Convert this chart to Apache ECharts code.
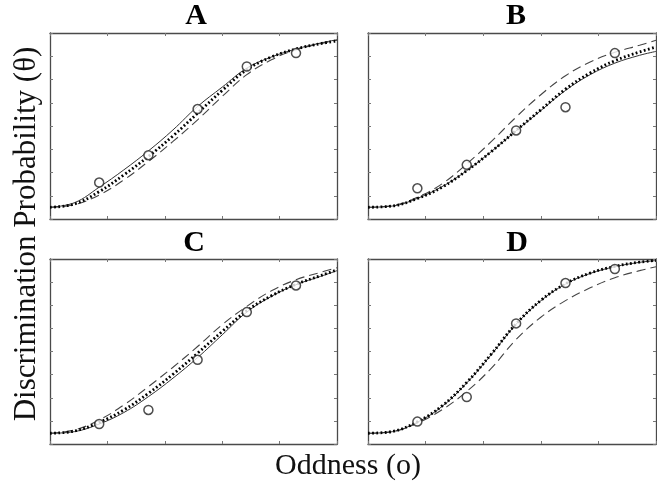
<!DOCTYPE html>
<html>
<head>
<meta charset="utf-8">
<script src="https://cdn.jsdelivr.net/npm/echarts@6/dist/echarts.min.js"></script>
<style>
  html, body { margin: 0; padding: 0; background: #fff; }
  #chart { width: 657px; height: 485px; }
</style>
</head>
<body>
<div id="chart"></div>
<script>
// shared x positions of the curve samples and of the measured points
const curveX = [0, 3, 6, 9, 12, 15, 18, 21, 24, 27, 30, 33, 35];
const pointX = [6, 12, 18, 24, 30];

const panelNames = ['A', 'B', 'C', 'D'];

// panel A
const solidA  = [0.063, 0.088, 0.171, 0.264, 0.366, 0.479, 0.605, 0.709, 0.811, 0.871, 0.914, 0.946, 0.964];
const dottedA = [0.063, 0.081, 0.147, 0.237, 0.336, 0.447, 0.569, 0.691, 0.803, 0.871, 0.914, 0.943, 0.957];
const dashedA = [0.063, 0.077, 0.129, 0.210, 0.309, 0.417, 0.533, 0.659, 0.776, 0.856, 0.910, 0.943, 0.961];
const pointsA = [0.196, 0.343, 0.591, 0.820, 0.892];

// panel B
const solidB  = [0.063, 0.070, 0.111, 0.174, 0.260, 0.363, 0.474, 0.583, 0.691, 0.776, 0.838, 0.880, 0.901];
const dottedB = [0.063, 0.070, 0.110, 0.171, 0.260, 0.363, 0.476, 0.587, 0.698, 0.785, 0.851, 0.898, 0.925];
const dashedB = [0.063, 0.072, 0.117, 0.189, 0.296, 0.417, 0.548, 0.668, 0.770, 0.844, 0.896, 0.934, 0.961];
const pointsB = [0.165, 0.291, 0.476, 0.601, 0.892];

// panel C
const solidC  = [0.058, 0.067, 0.108, 0.170, 0.256, 0.356, 0.467, 0.590, 0.713, 0.798, 0.861, 0.906, 0.937];
const dottedC = [0.058, 0.070, 0.117, 0.184, 0.274, 0.377, 0.491, 0.608, 0.720, 0.801, 0.863, 0.910, 0.941];
const dashedC = [0.058, 0.076, 0.130, 0.211, 0.310, 0.415, 0.527, 0.645, 0.744, 0.828, 0.888, 0.928, 0.953];
const pointsC = [0.108, 0.184, 0.455, 0.713, 0.857];

// panel D
const solidD  = [0.058, 0.067, 0.118, 0.203, 0.330, 0.484, 0.647, 0.774, 0.864, 0.922, 0.958, 0.982, 0.991];
const dottedD = [0.058, 0.068, 0.120, 0.206, 0.333, 0.487, 0.650, 0.776, 0.866, 0.924, 0.960, 0.983, 0.992];
const dashedD = [0.058, 0.067, 0.113, 0.185, 0.284, 0.410, 0.565, 0.685, 0.775, 0.844, 0.899, 0.937, 0.958];
const pointsD = [0.121, 0.254, 0.652, 0.870, 0.946];

const panels = [
  { solid: solidA, dotted: dottedA, dashed: dashedA, points: pointsA },
  { solid: solidB, dotted: dottedB, dashed: dashedB, points: pointsB },
  { solid: solidC, dotted: dottedC, dashed: dashedC, points: pointsC },
  { solid: solidD, dotted: dottedD, dashed: dashedD, points: pointsD }
];

const serif = '"Liberation Serif", "DejaVu Serif", serif';
const frameColor = '#4a4a4a';

const grids = [
  { left: 50,  top: 33,  width: 287, height: 186 },
  { left: 368, top: 33,  width: 288, height: 186 },
  { left: 50,  top: 259, width: 287, height: 185 },
  { left: 368, top: 259, width: 288, height: 185 }
];
const titlePos = [[196, 16], [516, 16], [194, 243], [517, 243]];

function pairs(xs, ys) {
  return xs.map((x, i) => [x, ys[i]]);
}

function axisBase(extra) {
  return Object.assign({
    type: 'value',
    axisLine: { show: true, onZero: false, lineStyle: { color: frameColor, width: 1.3 } },
    axisTick: { show: true, inside: true, length: 3, lineStyle: { color: '#777', width: 1 } },
    axisLabel: { show: false },
    splitLine: { show: false }
  }, extra);
}

const xAxes = [];
const yAxes = [];
const series = [];

panels.forEach((p, i) => {
  xAxes.push(axisBase({ gridIndex: i, min: 0, max: 35, interval: 7, position: 'bottom' }));
  xAxes.push(axisBase({ gridIndex: i, min: 0, max: 35, interval: 7, position: 'top' }));
  yAxes.push(axisBase({ gridIndex: i, min: 0, max: 1, interval: 0.125, position: 'left' }));
  yAxes.push(axisBase({ gridIndex: i, min: 0, max: 1, interval: 0.125, position: 'right' }));

  const ax = { xAxisIndex: i * 2, yAxisIndex: i * 2 };
  series.push(Object.assign({
    type: 'line', smooth: 0.4, showSymbol: false, silent: true,
    data: pairs(curveX, p.dashed),
    lineStyle: { color: '#444', width: 1.1, type: [9, 5] }
  }, ax));
  series.push(Object.assign({
    type: 'line', smooth: 0.4, showSymbol: false, silent: true,
    data: pairs(curveX, p.solid),
    lineStyle: { color: '#333', width: 1 }
  }, ax));
  series.push(Object.assign({
    type: 'line', smooth: 0.4, showSymbol: false, silent: true,
    data: pairs(curveX, p.dotted),
    lineStyle: { color: '#000', width: 2.8, type: [1.8, 2.4] }
  }, ax));
  series.push(Object.assign({
    type: 'scatter', silent: true,
    data: pairs(pointX, p.points),
    symbol: 'circle', symbolSize: 9,
    itemStyle: { color: '#fff', borderColor: '#222', borderWidth: 1.5 },
    z: 5
  }, ax));
});

const chart = echarts.init(document.getElementById('chart'), null, { renderer: 'canvas' });

chart.setOption({
  animation: false,
  backgroundColor: '#fff',
  grid: grids,
  xAxis: xAxes,
  yAxis: yAxes,
  series: series,
  graphic: panelNames.map((name, i) => ({
    type: 'text',
    x: titlePos[i][0], y: titlePos[i][1],
    style: {
      text: name, fill: '#000', font: 'bold 30px ' + serif,
      align: 'center', verticalAlign: 'middle'
    }
  })).concat([
    {
      type: 'text', x: 27, y: 234, rotation: Math.PI / 2,
      style: {
        text: 'Discrimination Probability (θ)', fill: '#111',
        font: '31px ' + serif, align: 'center', verticalAlign: 'middle'
      }
    },
    {
      type: 'text', x: 348, y: 466,
      style: {
        text: 'Oddness (o)', fill: '#111',
        font: '30px ' + serif, align: 'center', verticalAlign: 'middle'
      }
    }
  ])
});
</script>
</body>
</html>
